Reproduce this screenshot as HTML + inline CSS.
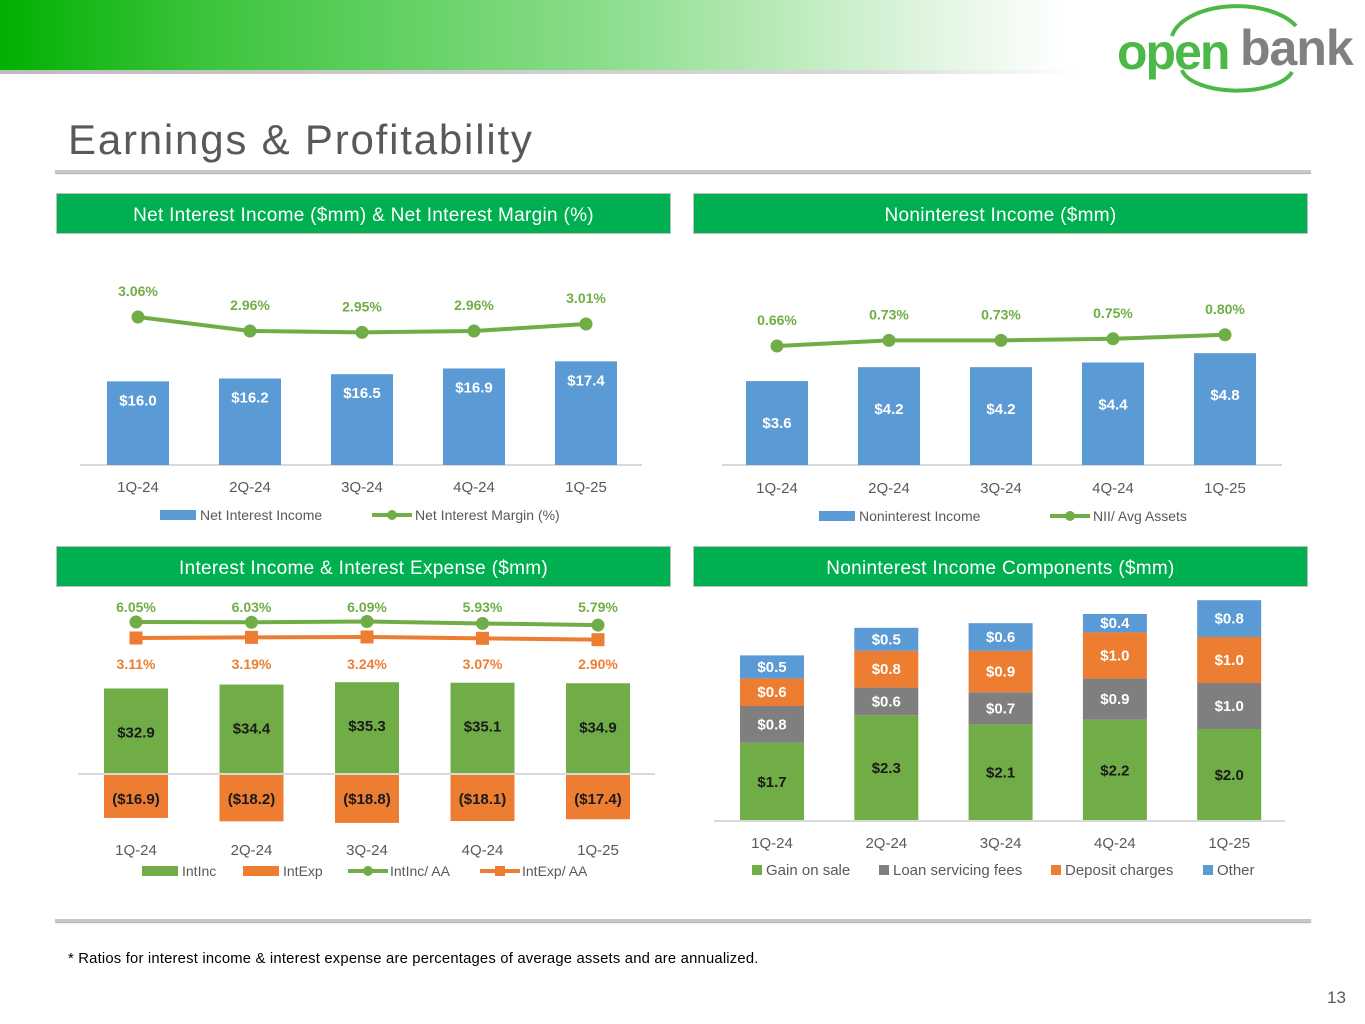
<!DOCTYPE html>
<html><head><meta charset="utf-8"><style>
html,body{margin:0;padding:0;background:#fff;width:1365px;height:1024px;overflow:hidden;font-family:"Liberation Sans",sans-serif}
#hdr{position:absolute;left:0;top:0;width:1365px;height:70px;background:linear-gradient(to right,#00b000 0%,#3cc43c 15%,#8ede8e 45%,#d6f2d6 65%,#ffffff 78%)}
#hdrline{position:absolute;left:0;top:70px;width:1080px;height:4px;background:linear-gradient(to right,#bdbdbd,#d8d8d8 80%,#fff)}
#title{position:absolute;left:68px;top:116px;font-size:42px;color:#595959;letter-spacing:1.8px}
.rule{position:absolute;left:55px;width:1256px;height:3px;background:#c8c8c8;box-shadow:0 1px 1px #aaa}
.ph{position:absolute;height:39px;width:613px;background:#00b050;border:1px solid #bfbfbf;color:#fff;font-size:19px;text-align:center;line-height:43px;letter-spacing:0.3px}
#foot{position:absolute;left:68px;top:951px;font-size:14.8px;color:#000;letter-spacing:0.2px}
#pg{position:absolute;left:1327px;top:988px;font-size:17px;color:#595959}
svg{position:absolute;left:0;top:0}
svg text{font-family:"Liberation Sans",sans-serif}
</style></head><body>
<div id="hdr"></div>
<div id="hdrline"></div>
<svg width="1365" height="1024" id="logo">
 <path d="M1172,36 A66,36 0 0 1 1296,26" fill="none" stroke="#4cb848" stroke-width="4"/>
 <path d="M1182,70 A56,24 0 0 0 1292,72" fill="none" stroke="#4cb848" stroke-width="4"/>
 <text x="1117" y="69" font-size="50" fill="#4cb848" font-weight="bold" letter-spacing="-2">open</text>
 <text x="1240" y="65" font-size="50" fill="#808080" font-weight="bold" letter-spacing="-1">bank</text>
</svg>
<div id="title">Earnings &amp; Profitability</div>
<div class="rule" style="top:170px"></div>
<div class="ph" style="left:56px;top:193px">Net Interest Income ($mm) &amp; Net Interest Margin (%)</div>
<div class="ph" style="left:693px;top:193px">Noninterest Income ($mm)</div>
<div class="ph" style="left:56px;top:546px">Interest Income &amp; Interest Expense ($mm)</div>
<div class="ph" style="left:693px;top:546px">Noninterest Income Components ($mm)</div>
<div class="rule" style="top:919px"></div>
<div id="foot">* Ratios for interest income &amp; interest expense are percentages of average assets and are annualized.</div>
<div id="pg">13</div>
<svg width="1365" height="1024" id="charts"></svg>
<script>
const quarters=["1Q-24","2Q-24","3Q-24","4Q-24","1Q-25"];
const niiVals=[16.0,16.2,16.5,16.9,17.4];
const nimVals=[3.06,2.96,2.95,2.96,3.01];
const nonintVals=[3.6,4.2,4.2,4.4,4.8];
const niiAssetVals=[0.66,0.73,0.73,0.75,0.80];
const intIncVals=[32.9,34.4,35.3,35.1,34.9];
const intExpVals=[16.9,18.2,18.8,18.1,17.4];
const intIncAAVals=[6.05,6.03,6.09,5.93,5.79];
const intExpAAVals=[3.11,3.19,3.24,3.07,2.90];
const gainVals=[1.7,2.3,2.1,2.2,2.0];
const loanFeeVals=[0.8,0.6,0.7,0.9,1.0];
const depositVals=[0.6,0.8,0.9,1.0,1.0];
const otherVals=[0.5,0.5,0.6,0.4,0.8];

const NS="http://www.w3.org/2000/svg";
const svg=document.getElementById('charts');
const BLUE="#5b9bd5",GREEN="#70ad47",ORANGE="#ed7d31",GRAY="#7f7f7f",LG="#70ad47";
function mk(tag,attrs,parent){const e=document.createElementNS(NS,tag);for(const k in attrs)e.setAttribute(k,attrs[k]);(parent||svg).appendChild(e);return e;}
function txt(x,y,s,attrs){const t=mk('text',Object.assign({x:x,y:y,'text-anchor':'middle','font-size':14},attrs||{}));t.textContent=s;return t;}
function fmt(v){return "$"+v.toFixed(1);}
function band(x0,step){return i=>x0+i*step;}

// ---- Chart 1
(function(){
 const g=mk('g',{});
 
 
 const xs=band(138,112), base=465, yb=v=>base-(v-10.15)*14.3, yl=v=>317+(3.06-v)*140;
 mk('line',{x1:80,x2:642,y1:base,y2:base,stroke:'#d9d9d9','stroke-width':2},g);
 niiVals.forEach((v,i)=>{const r=mk('rect',{x:xs(i)-31,y:yb(v),width:62,height:base-yb(v),fill:BLUE},g);
  
  txt(xs(i),yb(v)+24,fmt(v),{fill:'#fff','font-weight':'bold','font-size':15},g);
  txt(xs(i),base+27,quarters[i],{fill:'#595959','font-size':15},g);});
 mk('polyline',{points:nimVals.map((v,i)=>xs(i)+','+yl(v)).join(' '),fill:'none',stroke:LG,'stroke-width':4},g);
 nimVals.forEach((v,i)=>{const c=mk('circle',{cx:xs(i),cy:yl(v),r:6.5,fill:LG},g);
  
  txt(xs(i),yl(v)-21,v.toFixed(2)+"%",{fill:LG,'font-weight':'bold','font-size':14},g);});
 mk('rect',{x:160,y:510,width:36,height:10,fill:BLUE},g);
 txt(200,520,'Net Interest Income',{'text-anchor':'start',fill:'#595959'},g);
 mk('line',{x1:372,x2:412,y1:515,y2:515,stroke:LG,'stroke-width':4},g);mk('circle',{cx:392,cy:515,r:5,fill:LG},g);
 txt(415,520,'Net Interest Margin (%)',{'text-anchor':'start',fill:'#595959'},g);
})();

// ---- Chart 2
(function(){
 const g=mk('g',{});
 
 
 const xs=band(777,112), base=465, yb=v=>base-v*23.3, yl=v=>346+(0.66-v)*80;
 mk('line',{x1:722,x2:1282,y1:base,y2:base,stroke:'#d9d9d9','stroke-width':2},g);
 nonintVals.forEach((v,i)=>{const r=mk('rect',{x:xs(i)-31,y:yb(v),width:62,height:base-yb(v),fill:BLUE},g);
  
  txt(xs(i),yb(v)+47,fmt(v),{fill:'#fff','font-weight':'bold','font-size':15},g);
  txt(xs(i),base+28,quarters[i],{fill:'#595959','font-size':15},g);});
 mk('polyline',{points:niiAssetVals.map((v,i)=>xs(i)+','+yl(v)).join(' '),fill:'none',stroke:LG,'stroke-width':4},g);
 niiAssetVals.forEach((v,i)=>{const c=mk('circle',{cx:xs(i),cy:yl(v),r:6.5,fill:LG},g);
  
  txt(xs(i),yl(v)-21,v.toFixed(2)+"%",{fill:LG,'font-weight':'bold','font-size':14},g);});
 mk('rect',{x:819,y:511,width:36,height:10,fill:BLUE},g);
 txt(859,521,'Noninterest Income',{'text-anchor':'start',fill:'#595959'},g);
 mk('line',{x1:1050,x2:1090,y1:516,y2:516,stroke:LG,'stroke-width':4},g);mk('circle',{cx:1070,cy:516,r:5,fill:LG},g);
 txt(1093,521,'NII/ Avg Assets',{'text-anchor':'start',fill:'#595959'},g);
})();

// ---- Chart 3
(function(){
 const g=mk('g',{});
 
 
 const xs=band(136,115.5), zero=774, k=2.6, yi=v=>622+(6.05-v)*12, ye=v=>638+(3.11-v)*8;
 intIncVals.forEach((v,i)=>{const r=mk('rect',{x:xs(i)-32,y:zero-v*k,width:64,height:v*k,fill:GREEN},g);
  
  txt(xs(i),zero-v*k+49,fmt(v),{fill:'#1a1a1a','font-weight':'bold','font-size':15},g);});
 intExpVals.forEach((v,i)=>{const r=mk('rect',{x:xs(i)-32,y:zero,width:64,height:v*k,fill:ORANGE},g);
  
  txt(xs(i),zero+30,"($"+v.toFixed(1)+")",{fill:'#1a1a1a','font-weight':'bold','font-size':15},g);
  txt(xs(i),855,quarters[i],{fill:'#595959','font-size':15},g);});
 mk('line',{x1:78,x2:655,y1:zero,y2:zero,stroke:'#d9d9d9','stroke-width':2},g);
 mk('polyline',{points:intIncAAVals.map((v,i)=>xs(i)+','+yi(v)).join(' '),fill:'none',stroke:LG,'stroke-width':4},g);
 mk('polyline',{points:intExpAAVals.map((v,i)=>xs(i)+','+ye(v)).join(' '),fill:'none',stroke:ORANGE,'stroke-width':4},g);
 intIncAAVals.forEach((v,i)=>{const c=mk('circle',{cx:xs(i),cy:yi(v),r:6.5,fill:LG},g);
  
  txt(xs(i),612,v.toFixed(2)+"%",{fill:LG,'font-weight':'bold','font-size':14},g);});
 intExpAAVals.forEach((v,i)=>{const c=mk('rect',{x:xs(i)-6.5,y:ye(v)-6.5,width:13,height:13,fill:ORANGE},g);
  
  txt(xs(i),669,v.toFixed(2)+"%",{fill:ORANGE,'font-weight':'bold','font-size':14},g);});
 mk('rect',{x:142,y:866,width:36,height:10,fill:GREEN},g);
 txt(182,876,'IntInc',{'text-anchor':'start',fill:'#595959'},g);
 mk('rect',{x:243,y:866,width:36,height:10,fill:ORANGE},g);
 txt(283,876,'IntExp',{'text-anchor':'start',fill:'#595959'},g);
 mk('line',{x1:348,x2:388,y1:871,y2:871,stroke:LG,'stroke-width':4},g);mk('circle',{cx:368,cy:871,r:5,fill:LG},g);
 txt(390,876,'IntInc/ AA',{'text-anchor':'start',fill:'#595959'},g);
 mk('line',{x1:480,x2:520,y1:871,y2:871,stroke:ORANGE,'stroke-width':4},g);mk('rect',{x:495,y:866,width:10,height:10,fill:ORANGE},g);
 txt(522,876,'IntExp/ AA',{'text-anchor':'start',fill:'#595959'},g);
})();

// ---- Chart 4
(function(){
 const g=mk('g',{});
 
 
 const xs=band(772,114.3), base=821, k=46;
 const series=[[gainVals,GREEN,'#1a1a1a','gain-segment'],[loanFeeVals,GRAY,'#fff','loan-fee-segment'],[depositVals,ORANGE,'#fff','deposit-segment'],[otherVals,BLUE,'#fff','other-segment']];
 quarters.forEach((q,i)=>{let acc=0;
  series.forEach(s=>{const v=s[0][i];const y0=base-acc*k, h=v*k;
   const r=mk('rect',{x:xs(i)-32,y:y0-h,width:64,height:h,fill:s[1]},g);
   
   txt(xs(i),y0-h/2+5,fmt(v),{fill:s[2],'font-weight':'bold','font-size':15},g);
   acc+=v;});
  txt(xs(i),848,q,{fill:'#595959','font-size':15},g);});
 mk('line',{x1:714,x2:1285,y1:base,y2:base,stroke:'#d9d9d9','stroke-width':2},g);
 const leg=[[752,GREEN,'Gain on sale'],[879,GRAY,'Loan servicing fees'],[1051,ORANGE,'Deposit charges'],[1203,BLUE,'Other']];
 leg.forEach(l=>{mk('rect',{x:l[0],y:865,width:10,height:10,fill:l[1]},g);txt(l[0]+14,875,l[2],{'text-anchor':'start',fill:'#595959','font-size':15},g);});
})();
</script>
</body></html>
